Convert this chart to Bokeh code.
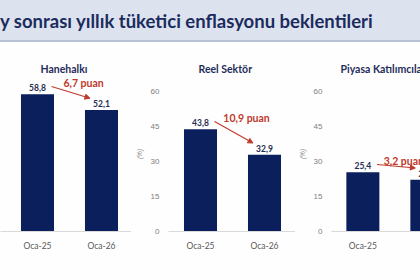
from bokeh.plotting import figure
from bokeh.models import Range1d, FixedTicker, Div, Arrow, NormalHead, ColumnDataSource
from bokeh.layouts import column, row
from bokeh.embed import file_html
from bokeh.resources import INLINE
from bokeh.core.properties import value

# ---- data ----
title_text = "y sonrası yıllık tüketici enflasyonu beklentileri"
categories = ["Oca-25", "Oca-26"]
panel_titles = ["Hanehalkı", "Reel Sektör", "Piyasa Katılımcıları"]
household = [58.8, 52.1]
real_sector = [43.8, 32.9]
market = [25.4, 22.2]
change_labels = ["6,7 puan", "10,9 puan", "3,2 puan"]
y_ticks = [0, 15, 30, 45, 60]

NAVY = "#0b1f5c"
RED = "#c0392b"
FONT = "Lato"
BG = "#fefefe"


def fmt(v):
    return f"{v:.1f}".replace(".", ",")


def make_panel(title, vals, change, frame_w, border_left, x_start,
               show_yaxis, title_offset, label_x):
    xs = list(range(len(categories)))
    p = figure(frame_width=frame_w, frame_height=155, output_backend="svg",
               toolbar_location=None,
               x_range=Range1d(x_start, x_start + frame_w / 64),
               y_range=Range1d(0, 66.4),
               min_border_left=border_left, min_border_right=0,
               min_border_top=32, min_border_bottom=49)
    p.outline_line_color = None
    p.background_fill_color = BG
    p.border_fill_color = BG
    p.grid.visible = False

    p.title.text = title
    p.title.align = "left"
    p.title.offset = title_offset
    p.title.standoff = 3
    p.title.text_font = FONT
    p.title.text_font_size = "10.5px"
    p.title.text_font_style = "bold"
    p.title.text_color = "#1f2d5a"

    src = ColumnDataSource(dict(x=xs, top=vals, label=[fmt(v) for v in vals]))
    p.vbar(x="x", top="top", width=0.516, source=src, fill_color=NAVY,
           line_color=None)
    p.text(x="x", y="top", text="label", source=src, text_align="center",
           text_baseline="bottom", y_offset=-3, text_font=value(FONT),
           text_font_size="8.5px", text_font_style="bold",
           text_color="#1f2d50")

    # change arrow and label
    arr = Arrow(end=NormalHead(size=5, fill_color=RED, line_color=RED),
                x_start=xs[0] + 0.22, y_start=vals[0] + 3.3,
                x_end=xs[1] - 0.18, y_end=vals[1] + 5.0,
                line_color=RED, line_width=1.2)
    p.add_layout(arr)
    p.text(x=[label_x], y=[vals[0] + 4.8], text=[change], text_align="center",
           text_baseline="middle", text_font=value(FONT),
           text_font_size="10.5px", text_font_style="bold", text_color=RED)

    xa = p.xaxis[0]
    xa.ticker = FixedTicker(ticks=xs)
    xa.major_label_overrides = {i: c for i, c in enumerate(categories)}
    xa.axis_line_color = "#d9d9d9"
    xa.major_tick_line_color = None
    xa.major_tick_out = 0
    xa.major_label_standoff = 9
    xa.major_label_text_font = FONT
    xa.major_label_text_font_size = "8.5px"
    xa.major_label_text_color = "#595959"

    ya = p.yaxis[0]
    if show_yaxis:
        ya.ticker = FixedTicker(ticks=y_ticks)
        ya.axis_line_color = None
        ya.major_tick_line_color = None
        ya.major_tick_out = 0
        ya.major_label_standoff = 9
        ya.major_label_text_font_size = "8px"
        ya.major_label_text_color = "#7f7f7f"
        ya.axis_label = "(%)"
        ya.axis_label_standoff = 5
        ya.axis_label_text_font_size = "6.5px"
        ya.axis_label_text_color = "#7f7f7f"
    else:
        ya.visible = False
    return p


p1 = make_panel(panel_titles[0], household, change_labels[0], 131, 0,
                -0.578, False, 40, 0.72)
p2 = make_panel(panel_titles[1], real_sector, change_labels[1], 127, 37,
                -0.5, True, 30, 0.72)
p3 = make_panel(panel_titles[2], market, change_labels[2], 92, 33,
                -0.49, True, 9, 0.64)

header = Div(
    text=('<div style="width:420px;height:42px;background:#dce3ee;'
          'border-bottom:2px solid #b9c3d4;font-family:Lato;font-weight:bold;'
          'font-size:18.5px;color:#1b2b5e;line-height:42px;white-space:nowrap;'
          'overflow:hidden;padding-left:0px;">' + title_text + '</div>'),
    width=420, height=44, margin=0)

layout = column(header, row(p1, p2, p3, spacing=0), spacing=0)
open("out.html", "w").write(file_html(layout, INLINE))
